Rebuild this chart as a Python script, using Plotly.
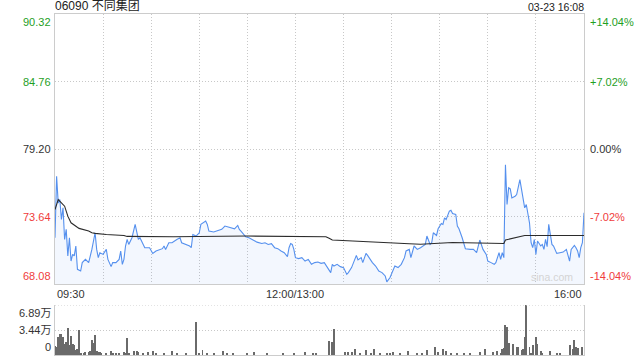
import plotly.graph_objects as go

# ---- data ----
title = "06090 不同集团"
stamp = "03-23 16:08"
prev_close = 79.20

# trading minute since 09:30 (lunch break skipped; 150 = 12:00/13:00, 330 = 16:00)
price_min = [0,1,2,3,4,5,6,7,8,9,10,11,12,13,14,16,17,19,21,23,25,26,27,28,30,32,33,35,36,38,
             40,41,42,43,44,45,46,48,50,51,52,53,54,56,59,61,63,67,68,69,71,73,76,78,79,82,84,85,86,88,
             90,91,94,95,96,99,101,104,106,108,111,112,114,115,116,119,121,124,126,129,131,133,135,137,139,
             141,143,145,146,147,148,149,150,152,154,156,158,160,162,164,166,168,170,172,173,174,176,178,180,
             182,183,185,188,189,191,192,194,195,198,200,202,204,206,207,209,211,212,214,216,218,219,221,222,
             224,226,228,231,232,234,235,236,238,239,241,242,243,244,246,247,248,250,251,252,254,255,256,259,
             261,262,263,265,266,267,269,270,272,274,275,276,277,278,279,280,281,282,283,284,285,287,288,290,
             291,292,293,294,295,296,297,298,299,300,301,303,304,305,306,307,308,309,310,311,313,315,317,319,
             320,321,322,324,325,326,327,328,329,330]
price = [71.89,76.95,74.76,75.04,73.39,74.35,71.75,72.58,70.39,71.89,69.97,70.52,70.39,71.21,69.29,69.15,69.84,70.11,69.84,70.93,
         72.30,70.93,70.25,70.66,70.52,70.93,70.11,69.51,69.84,69.84,70.11,70.80,69.70,70.11,71.21,71.75,71.34,71.89,72.99,72.44,
         71.75,71.89,71.62,71.07,71.07,70.60,70.80,70.99,71.21,70.93,71.48,71.48,71.75,71.89,71.48,71.34,71.21,71.07,72.16,72.03,
         72.30,72.99,73.26,72.99,72.44,72.36,72.44,72.58,72.85,72.77,72.71,72.63,72.90,72.58,72.44,71.97,71.89,71.70,71.53,71.42,
         71.48,71.34,71.40,71.07,70.99,70.80,70.66,70.33,71.07,71.42,71.34,70.93,70.25,70.17,70.25,69.97,70.11,69.70,69.84,69.89,
         69.78,69.84,69.43,69.02,69.70,69.56,69.70,69.51,69.43,68.88,69.02,69.43,70.44,70.06,70.25,69.84,70.60,70.44,69.84,69.56,
         69.15,69.02,68.74,68.25,68.61,69.29,69.56,69.43,69.70,70.25,70.80,70.93,70.25,71.21,70.93,71.07,71.34,72.03,71.34,71.48,
         72.30,72.08,72.63,73.07,72.99,73.53,73.39,74.08,74.16,73.89,73.81,72.85,72.63,71.89,71.34,70.99,70.93,70.93,70.80,70.66,
         71.70,71.34,70.93,70.52,69.97,69.84,69.70,69.84,70.33,70.66,70.11,70.66,70.25,77.91,74.63,76.00,75.91,75.17,75.31,75.45,
         76.68,75.86,75.04,74.35,74.63,73.67,73.12,71.48,71.07,71.75,70.52,71.62,71.21,71.34,70.93,71.75,71.15,72.99,72.03,71.34,
         71.21,70.60,70.66,70.71,70.93,70.39,69.97,70.93,71.26,71.07,70.80,70.25,71.07,71.48,73.94]

avg_min = [0,2,4,6,8,10,15,21,23,25,32,43,45,74,120,169,171,173,221,228,248,280,281,293,330]
avg_price = [74.22,75.04,74.76,74.49,73.67,73.12,72.66,72.44,72.30,72.25,72.16,72.08,72.00,71.97,72.03,
             71.97,71.85,71.70,71.40,71.36,71.50,71.42,71.70,72.08,72.08]

vol_min = [0,1,2,3,4,5,6,7,8,9,10,11,12,13,14,15,16,18,19,21,22,23,24,25,26,27,28,29,32,35,36,38,40,43,44,45,46,
           49,51,52,55,58,61,63,68,73,76,82,88,90,92,95,99,105,107,111,120,124,132,142,149,156,161,163,
           171,173,174,181,183,185,187,190,194,197,199,203,207,209,211,215,220,226,229,232,237,239,242,244,247,
           251,255,259,265,268,273,276,278,279,280,281,282,283,286,288,289,291,292,293,294,296,297,298,300,301,
           303,304,309,313,315,321,323,324,325,326,329]
vol = [1.30,1.17,2.50,2.86,2.86,2.48,1.55,1.78,3.66,1.31,2.62,1.55,1.31,0.70,0.84,3.42,0.24,0.24,0.38,0.38,0.61,2.10,
       1.64,2.72,0.61,0.38,0.47,0.14,0.24,0.61,0.24,0.24,0.24,0.47,0.24,2.40,0.14,0.61,0.61,0.38,0.24,0.38,0.61,0.24,
       0.14,0.61,0.14,0.24,4.55,0.24,0.70,0.24,0.24,0.52,0.24,0.24,0.24,0.38,0.24,0.24,0.24,0.38,0.24,0.33,
       1.92,1.78,3.56,0.47,0.47,0.38,0.85,0.24,0.70,0.24,0.85,0.24,0.24,0.33,0.47,0.24,0.61,0.33,0.24,0.70,1.17,0.38,
       0.85,0.52,0.33,0.24,0.14,0.24,0.47,0.85,0.38,0.61,0.33,0.85,0.94,4.12,3.89,1.69,1.45,1.08,1.17,0.70,0.85,2.48,
       6.89,1.08,0.28,1.31,2.48,1.55,0.61,0.24,0.61,0.24,0.24,1.41,0.85,2.00,1.08,0.99,1.17]

price_ticks = [90.32, 84.76, 79.20, 73.64, 68.08]
pct_ticks = ["+14.04%", "+7.02%", "0.00%", "-7.02%", "-14.04%"]
vol_ticks = [6.89, 3.44, 0]
vol_tick_text = ["6.89万", "3.44万", "0"]
time_ticks = [0, 150, 330]
time_text = ["09:30", "12:00/13:00", "16:00"]
grid_minutes = [30, 60, 90, 120, 150, 180, 210, 240, 270, 300]

# ---- style ----
GREEN = "#1fa01f"
RED = "#f03c3c"
DARK = "#333333"
FONT = "Liberation Sans, Arial, Noto Sans CJK SC, sans-serif"
GRID = "#c8c8c8"
DOT = "1px,2px"
BORDER = "#cccccc"

fig = go.Figure()
fig.add_trace(go.Scatter(x=price_min, y=price, mode="lines",
                         line=dict(color="#5590ee", width=1.1),
                         fill="tozeroy", fillcolor="rgba(85,144,238,0.07)",
                         xaxis="x", yaxis="y", hoverinfo="skip"))
fig.add_trace(go.Scatter(x=avg_min, y=avg_price, mode="lines",
                         line=dict(color="#2b2b2b", width=1.1),
                         xaxis="x", yaxis="y", hoverinfo="skip"))
fig.add_trace(go.Bar(x=vol_min, y=vol, width=0.6, marker=dict(color="#6a6a6a", line=dict(width=0)),
                     xaxis="x2", yaxis="y2", hoverinfo="skip"))

H = 360
top_px, price_bot_px, vol_top_px, vol_bot_px = 14, 284, 305, 355
span = vol_bot_px - top_px
price_dom = [(vol_bot_px - price_bot_px) / span, 1]
vol_dom = [0, (vol_bot_px - vol_top_px) / span]

fig.update_layout(
    width=640, height=H,
    margin=dict(l=55, r=56, t=top_px, b=H - vol_bot_px, pad=0),
    plot_bgcolor="white", paper_bgcolor="white", showlegend=False,
    bargap=0,
    xaxis=dict(domain=[0, 1], range=[0, 330], anchor="y", tickvals=grid_minutes,
               showticklabels=False, ticks="", showgrid=True, gridcolor=GRID, griddash=DOT,
               gridwidth=1, showline=True, mirror=True, linecolor=BORDER, linewidth=1, zeroline=False),
    yaxis=dict(domain=price_dom, range=[price_ticks[-1], price_ticks[0]], tickvals=price_ticks[1:-1],
               showticklabels=False, ticks="", showgrid=True, gridcolor=GRID, griddash=DOT,
               gridwidth=1, showline=True, mirror=True, linecolor=BORDER, linewidth=1, zeroline=False),
    xaxis2=dict(domain=[0, 1], range=[0, 330], anchor="y2", showticklabels=False, ticks="",
                showgrid=False, showline=True, linecolor=BORDER, linewidth=1, zeroline=False),
    yaxis2=dict(domain=vol_dom, range=[0, vol_ticks[0]], anchor="x2", tickvals=[vol_ticks[1]],
                showticklabels=False, ticks="", showgrid=True, gridcolor=GRID, griddash=DOT,
                gridwidth=1, showline=True, mirror=True, linecolor=BORDER, linewidth=1, zeroline=False),
)

# dotted top edge of the volume pane
fig.add_shape(type="line", xref="x2 domain", x0=0, x1=1, yref="y2", y0=vol_ticks[0], y1=vol_ticks[0],
              line=dict(color=GRID, width=1, dash=DOT))

ann = []
n = len(price_ticks)
for i, (p, pc) in enumerate(zip(price_ticks, pct_ticks)):
    col = GREEN if p > prev_close + 1e-9 else (RED if p < prev_close - 1e-9 else DARK)
    if i == 0:
        ya = "top"
    elif i == n - 1:
        ya = "bottom"
    else:
        ya = "middle"
    ann.append(dict(text=f"{p:.2f}", x=0, xref="paper", xanchor="right", xshift=-2,
                    y=p, yref="y", yanchor=ya, showarrow=False,
                    font=dict(family=FONT, size=11, color=col)))
    ann.append(dict(text=pc, x=1, xref="paper", xanchor="left", xshift=4,
                    y=p, yref="y", yanchor=ya, showarrow=False,
                    font=dict(family=FONT, size=11, color=col)))
for i, (v, t) in enumerate(zip(vol_ticks, vol_tick_text)):
    ya = "top" if i == 0 else ("bottom" if i == len(vol_ticks) - 1 else "middle")
    ann.append(dict(text=t, x=0, xref="paper", xanchor="right", xshift=-2,
                    y=v, yref="y2", yanchor=ya, showarrow=False,
                    font=dict(family=FONT, size=11, color=DARK)))
time_y = (vol_bot_px - 294) / span
for m, t in zip(time_ticks, time_text):
    xa = "left" if m == time_ticks[0] else ("right" if m == time_ticks[-1] else "center")
    ann.append(dict(text=t, x=m, xref="x", xanchor=xa, y=time_y, yref="paper", yanchor="middle",
                    showarrow=False, font=dict(family=FONT, size=11, color=DARK)))
ann.append(dict(text=title, x=0, xref="paper", xanchor="left", xshift=-2, y=1, yref="paper",
                yanchor="bottom", yshift=-1, showarrow=False,
                font=dict(family=FONT, size=12, color="#222222")))
ann.append(dict(text=stamp, x=1, xref="paper", xanchor="right", xshift=2, y=1, yref="paper",
                yanchor="bottom", yshift=-1, showarrow=False,
                font=dict(family=FONT, size=10.5, color="#222222")))
ann.append(dict(text="sina.com", x=1, xref="paper", xanchor="right", xshift=-9,
                y=price_ticks[-1], yref="y", yanchor="bottom", yshift=-1, showarrow=False,
                font=dict(family=FONT, size=10.5, color="#d4d4d4")))
fig.update_layout(annotations=ann)

fig.write_html("out.html", config={"displayModeBar": False},
               post_script="document.body.style.margin='0';document.body.style.padding='0';")
